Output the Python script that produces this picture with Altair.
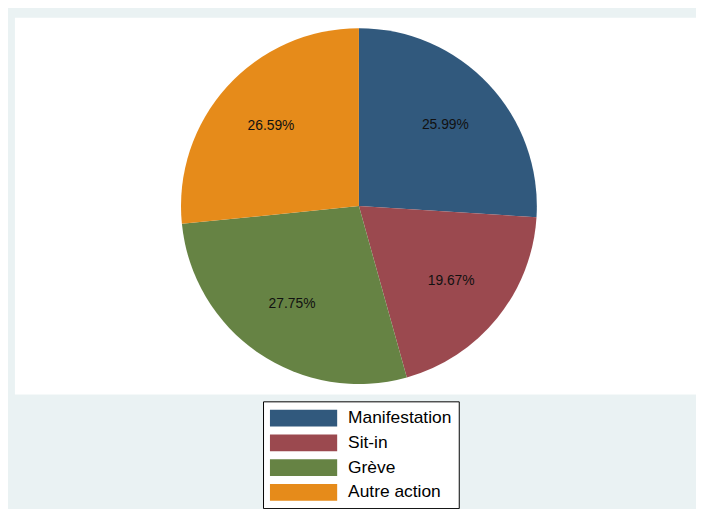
import altair as alt
import pandas as pd

categories = ["Manifestation", "Sit-in", "Grève", "Autre action"]
shares = [25.99, 19.67, 27.75, 26.59]
labels = ["25.99%", "19.67%", "27.75%", "26.59%"]
colors = ["#31597D", "#9B494F", "#668344", "#E68B1A"]

df = pd.DataFrame({
    "cat": categories,
    "share": shares,
    "label": labels,
    "order": list(range(len(categories))),
})

theta = alt.Theta("share:Q", stack=True)
color = alt.Color(
    "cat:N",
    scale=alt.Scale(domain=categories, range=colors),
    legend=alt.Legend(
        title=None,
        orient="none",
        legendX=251,
        legendY=388,
        direction="vertical",
        fillColor="white",
        strokeColor="black",
        padding=7,
        symbolType="M-3.4,-0.85H3.4V0.85H-3.4Z",
        symbolSize=400,
        symbolStrokeWidth=0,
        symbolOpacity=1,
        symbolOffset=24,
        labelOffset=35,
        labelFont="Liberation Sans",
        labelFontSize=17.6,
        labelColor="black",
        rowPadding=6,
        labelLimit=300,
    ),
)

base = alt.Chart(df).encode(
    theta=theta,
    order=alt.Order("order:Q"),
    x=alt.value(348),
    y=alt.value(190.5),
)

pie = base.mark_arc(outerRadius=180).encode(
    color=color,
)

text = base.mark_text(
    radius=120,
    font="Liberation Sans",
    fontSize=14,
    color="#111111",
).encode(
    text="label:N",
)

chart = (
    alt.layer(pie, text)
    .properties(
        width=696,
        height=381,
        background="#EAF2F3",
        padding={"left": 7, "top": 7, "right": -7, "bottom": 113},
        autosize=alt.AutoSizeParams(type="none"),
    )
    .configure_view(fill="white", stroke=None)
)

chart.save("out.html", embed_options={"renderer": "svg", "actions": False})
